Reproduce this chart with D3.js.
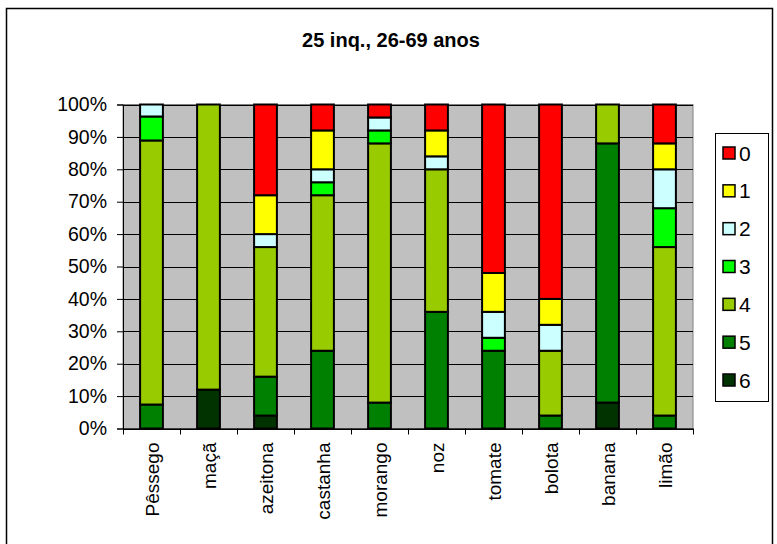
<!DOCTYPE html>
<html>
<head>
<meta charset="utf-8">
<script src="https://cdn.jsdelivr.net/npm/d3@7"></script>
<style>
  html, body { margin: 0; padding: 0; background: #fff; }
  svg { display: block; font-family: "Liberation Sans", Arial, sans-serif; }
</style>
</head>
<body>
<script>
// Fruits surveyed
const categories = ["Pêssego", "maçã", "azeitona", "castanha", "morango", "noz", "tomate", "bolota", "banana", "limão"];
// Response levels, bottom of stack first
const seriesKeys = ["6", "5", "4", "3", "2", "1", "0"];
// Percentage of answers per level, one entry per fruit
const s6 = [0, 12, 4, 0, 0, 0, 0, 0, 8, 0];
const s5 = [7.4, 0, 12, 24, 8, 36, 24, 4, 80, 4];
const s4 = [81.5, 88, 40, 48, 80, 44, 0, 20, 12, 52];
const s3 = [7.4, 0, 0, 4, 4, 0, 4, 0, 0, 12];
const s2 = [3.7, 0, 4, 4, 4, 4, 8, 8, 0, 12];
const s1 = [0, 0, 12, 12, 0, 8, 12, 8, 0, 8];
const s0 = [0, 0, 28, 8, 4, 8, 52, 60, 0, 12];
const yTicks = [0, 0.1, 0.2, 0.3, 0.4, 0.5, 0.6, 0.7, 0.8, 0.9, 1];
const colors = { "0": "#FF0000", "1": "#FFFF00", "2": "#CCFFFF", "3": "#00FF00", "4": "#99CC00", "5": "#008000", "6": "#003300" };
const title = "25 inq., 26-69 anos";

const seriesValues = { "6": s6, "5": s5, "4": s4, "3": s3, "2": s2, "1": s1, "0": s0 };
const rows = categories.map((c, i) => {
  const r = { cat: c };
  seriesKeys.forEach(k => r[k] = seriesValues[k][i]);
  return r;
});

const W = 777, H = 544;
const plot = { left: 123, right: 693, top: 104.5, bottom: 428.5 };

const svg = d3.select("body").append("svg").attr("width", W).attr("height", H);

// outer chart frame
svg.append("rect").attr("x", 6.5).attr("y", 8.5).attr("width", 766).attr("height", 545)
  .attr("fill", "#fff").attr("stroke", "#000").attr("stroke-width", 1.5);

svg.append("text").attr("x", 391).attr("y", 47).attr("text-anchor", "middle")
  .attr("font-size", 20).attr("font-weight", "bold").text(title);

const x = d3.scaleBand().domain(categories).range([plot.left, plot.right]).paddingInner(0.6).paddingOuter(0.3);
const xb = d3.scaleBand().domain(categories).range([plot.left, plot.right]);
const y = d3.scaleLinear().domain([0, 1]).range([plot.bottom, plot.top]);

// plot background
svg.append("rect").attr("x", plot.left).attr("y", plot.top)
  .attr("width", plot.right - plot.left).attr("height", plot.bottom - plot.top)
  .attr("fill", "#C0C0C0").attr("stroke", "#808080").attr("stroke-width", 1);

// horizontal gridlines
svg.append("g").selectAll("line").data(yTicks).join("line")
  .attr("x1", plot.left).attr("x2", plot.right)
  .attr("y1", d => Math.round(y(d)) + 0.5).attr("y2", d => Math.round(y(d)) + 0.5)
  .attr("stroke", "#000").attr("stroke-width", 1);

// stacked bars
const stack = d3.stack().keys(seriesKeys).offset(d3.stackOffsetExpand);
const layers = stack(rows);
svg.append("g").selectAll("g").data(layers).join("g")
  .attr("fill", d => colors[d.key])
  .selectAll("rect").data(d => d.filter(p => p[1] - p[0] > 0)).join("rect")
  .attr("x", d => x(d.data.cat))
  .attr("width", x.bandwidth())
  .attr("y", d => y(d[1]))
  .attr("height", d => y(d[0]) - y(d[1]))
  .attr("stroke", "#000").attr("stroke-width", 2);

// y axis
const yAxis = d3.axisLeft(y).tickValues(yTicks).tickFormat(d3.format(".0%")).tickSize(6).tickPadding(10);
const gy = svg.append("g").attr("transform", `translate(${plot.left},0)`).call(yAxis);
gy.select(".domain").attr("stroke", "#000");
gy.selectAll("text").attr("font-size", 19.5).attr("fill", "#000").attr("font-family", "Liberation Sans, Arial, sans-serif");

// x axis line and category separators
svg.append("line").attr("x1", plot.left).attr("x2", plot.right)
  .attr("y1", plot.bottom + 0.5).attr("y2", plot.bottom + 0.5).attr("stroke", "#000");
const sepData = categories.map(c => xb(c)).concat([plot.right]);
svg.append("g").selectAll("line").data(sepData).join("line")
  .attr("x1", d => Math.round(d) + 0.5).attr("x2", d => Math.round(d) + 0.5)
  .attr("y1", plot.bottom).attr("y2", plot.bottom + 6).attr("stroke", "#000");

// rotated category labels
svg.append("g").selectAll("text").data(categories).join("text")
  .attr("transform", d => `translate(${xb(d) + xb.bandwidth() / 2 + 7},${plot.bottom + 14}) rotate(-90)`)
  .attr("text-anchor", "end").attr("font-size", 19).attr("fill", "#000").text(d => d);

// legend
const legendKeys = ["0", "1", "2", "3", "4", "5", "6"];
const lg = svg.append("g");
lg.append("rect").attr("x", 715.5).attr("y", 133.5).attr("width", 53).attr("height", 268)
  .attr("fill", "#fff").attr("stroke", "#000").attr("stroke-width", 1);
const ly = d3.scalePoint().domain(legendKeys).range([153, 380]);
const items = lg.selectAll("g").data(legendKeys).join("g")
  .attr("transform", d => `translate(0,${ly(d)})`);
items.append("rect").attr("x", 723).attr("y", -6).attr("width", 12).attr("height", 12)
  .attr("fill", d => colors[d]).attr("stroke", "#000").attr("stroke-width", 1.5);
items.append("text").attr("x", 739).attr("y", 7.5).attr("font-size", 21).attr("fill", "#000").text(d => d);
</script>
</body>
</html>
